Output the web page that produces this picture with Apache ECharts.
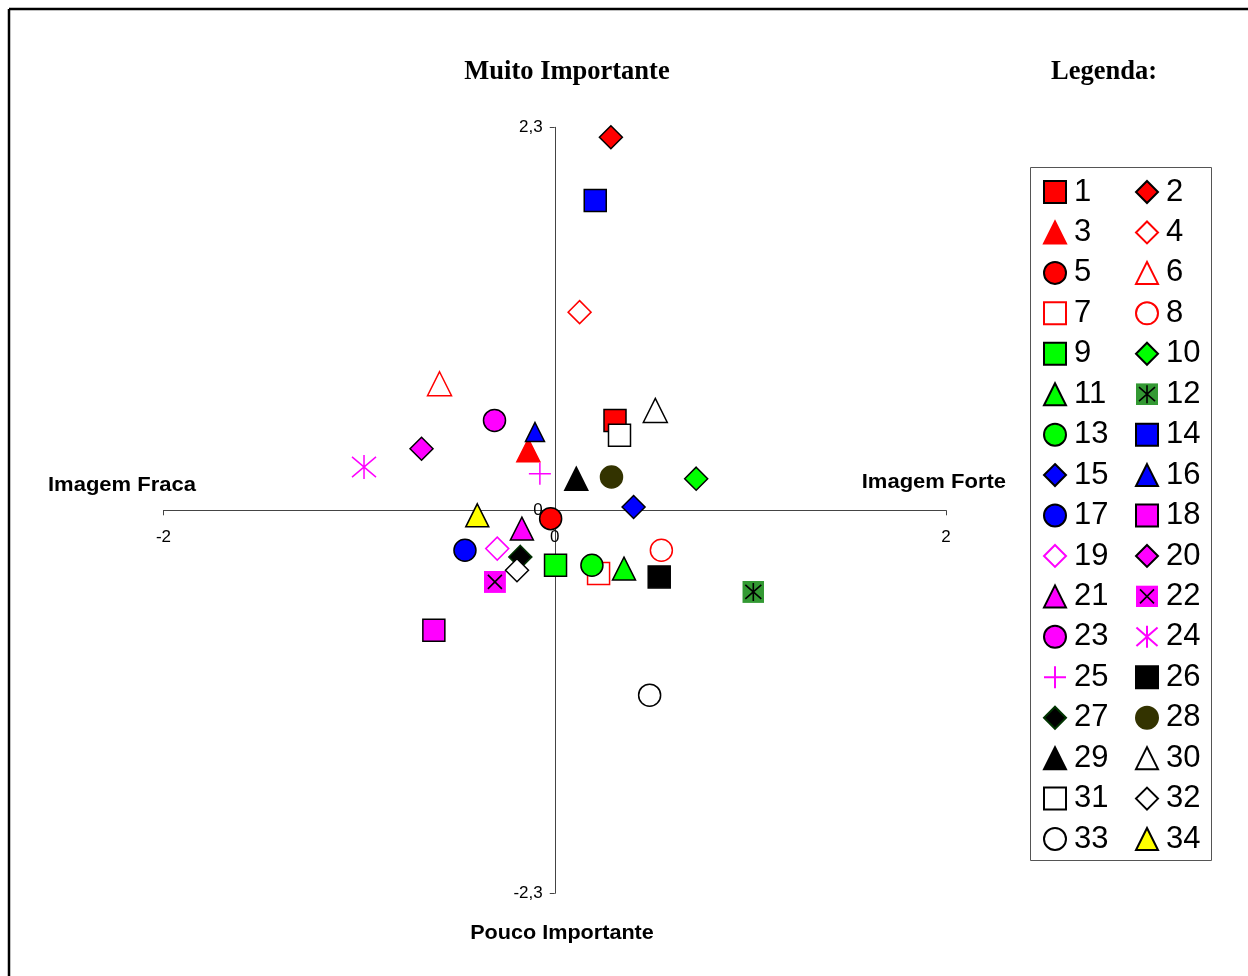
<!DOCTYPE html>
<html>
<head>
<meta charset="utf-8">
<title>Imagem x Importância</title>
<script src="https://cdn.jsdelivr.net/npm/echarts@6/dist/echarts.min.js"></script>
<style>
  html, body { margin: 0; padding: 0; background: #ffffff; }
  #chart { width: 1248px; height: 976px; }
</style>
</head>
<body>
<div id="chart"></div>
<script>
// Attribute labels (1..34) and their position on the image / importance map
const names = ['1','2','3','4','5','6','7','8','9','10','11','12','13','14','15','16','17',
               '18','19','20','21','22','23','24','25','26','27','28','29','30','31','32','33','34'];
const xValues = [0.308, 0.287, -0.135, 0.127, -0.021, -0.589, 0.224, 0.545, 0.004, 0.723,
                 0.354, 1.015, 0.190, 0.207, 0.403, -0.101, -0.459, -0.618, -0.294, -0.681,
                 -0.168, -0.306, -0.308, -0.975, -0.076, 0.534, -0.176, 0.290, 0.110, 0.514,
                 0.331, -0.193, 0.485, -0.396];
const yValues = [0.54, 2.24, 0.36, 1.19, -0.05, 0.76, -0.38, -0.24, -0.33, 0.19,
                 -0.35, -0.49, -0.33, 1.86, 0.02, 0.47, -0.24, -0.72, -0.23, 0.37,
                 -0.11, -0.43, 0.54, 0.26, 0.22, -0.40, -0.28, 0.20, 0.19, 0.60,
                 0.45, -0.36, -1.11, -0.03];
const xTicks = [-2, 0, 2];
const yTicks = [-2.3, 0, 2.3];

// Marker shapes
const svgUri = s => 'image://data:image/svg+xml;charset=utf-8,' + encodeURIComponent(s);
const squareStar = svgUri('<svg xmlns="http://www.w3.org/2000/svg" width="22" height="22">' +
  '<rect width="22" height="22" fill="#339933"/>' +
  '<path d="M11 2V20M3 4L19 18M3 18L19 4" stroke="#000" stroke-width="1.6" fill="none"/></svg>');
const squareCross = svgUri('<svg xmlns="http://www.w3.org/2000/svg" width="22" height="22">' +
  '<rect width="22" height="22" fill="#ff00ff"/>' +
  '<path d="M4 4L18 18M4 18L18 4" stroke="#000" stroke-width="1.6" fill="none"/></svg>');
const asterisk = 'path://M0,2L24,23M0,23L24,2M12,0L12,25';
const plus = 'path://M11,0L11,22M0,11L22,11';

const RED = '#ff0000', GRN = '#00ff00', BLU = '#0000ff', MAG = '#ff00ff',
      YEL = '#ffff00', BLK = '#000000', WHT = '#ffffff', NONE = 'rgba(0,0,0,0)';

// [symbol, size, fill, border]
const styles = [
  ['rect', 22, RED, BLK],        // 1
  ['diamond', 23, RED, BLK],     // 2
  ['triangle', 23, RED, RED],    // 3
  ['diamond', 23, WHT, RED],     // 4
  ['circle', 22, RED, BLK],      // 5
  ['triangle', 24, WHT, RED],    // 6
  ['rect', 22, WHT, RED],        // 7
  ['circle', 22, WHT, RED],      // 8
  ['rect', 22, GRN, BLK],        // 9
  ['diamond', 23, GRN, BLK],     // 10
  ['triangle', 23, GRN, BLK],    // 11
  [squareStar, 22, '#339933', NONE], // 12
  ['circle', 22, GRN, BLK],      // 13
  ['rect', 22, BLU, BLK],        // 14
  ['diamond', 23, BLU, BLK],     // 15
  ['triangle', 19, BLU, BLK],    // 16
  ['circle', 22, BLU, BLK],      // 17
  ['rect', 22, MAG, BLK],        // 18
  ['diamond', 23, WHT, MAG],     // 19
  ['diamond', 23, MAG, BLK],     // 20
  ['triangle', 23, MAG, BLK],    // 21
  [squareCross, 22, MAG, NONE],  // 22
  ['circle', 22, MAG, BLK],      // 23
  [asterisk, 24, NONE, MAG],     // 24
  [plus, 22, NONE, MAG],         // 25
  ['rect', 22, BLK, BLK],        // 26
  ['diamond', 23, BLK, '#003300'], // 27
  ['circle', 22, '#333300', '#333300'], // 28
  ['triangle', 23, BLK, BLK],    // 29
  ['triangle', 24, WHT, BLK],    // 30
  ['rect', 22, WHT, BLK],        // 31
  ['diamond', 23, WHT, BLK],     // 32
  ['circle', 22, WHT, BLK],      // 33
  ['triangle', 23, YEL, BLK]     // 34
];

const series = names.map((n, i) => {
  const [symbol, size, fill, border] = styles[i];
  return {
    type: 'scatter',
    name: n,
    symbol: symbol,
    symbolSize: size,
    itemStyle: { color: fill, borderColor: border, borderWidth: 1.5, opacity: 1 },
    emphasis: { disabled: true },
    data: [[xValues[i], yValues[i]]]
  };
});

const sans = '"Liberation Sans", Arial, sans-serif';
const serif = '"Liberation Serif", "Times New Roman", serif';

const GRID = { left: 163.5, top: 127.3, width: 782.5, height: 766 };

const legendCommon = {
  orient: 'vertical',
  top: 176.5,
  padding: 0,
  itemWidth: 22,
  itemHeight: 22,
  itemGap: 9.44,
  selectedMode: false,
  textStyle: { fontFamily: sans, fontSize: 31, lineHeight: 31, color: '#000', padding: [0, 0, 0, 3] }
};

const fmt = v => String(v).replace('.', ',');

const option = {
  backgroundColor: '#ffffff',
  animation: false,
  grid: Object.assign({ containLabel: false }, GRID),
  // both axes cross at the centre of the plot (value 0 on each)
  xAxis: {
    type: 'value',
    position: 'bottom',
    offset: -GRID.height / 2,
    min: xTicks[0], max: xTicks[xTicks.length - 1], interval: xTicks[1] - xTicks[0],
    splitLine: { show: false },
    axisLine: { show: true, onZero: false, lineStyle: { color: '#444', width: 1 } },
    axisTick: { show: true, inside: false, length: 5, lineStyle: { color: '#444' } },
    axisLabel: { show: true, margin: 19, showMinLabel: true, showMaxLabel: true,
                 fontFamily: sans, fontSize: 17, color: '#000', formatter: fmt }
  },
  yAxis: {
    type: 'value',
    position: 'left',
    offset: -GRID.width / 2,
    min: yTicks[0], max: yTicks[yTicks.length - 1], interval: yTicks[1] - yTicks[0],
    splitLine: { show: false },
    axisLine: { show: true, onZero: false, lineStyle: { color: '#444', width: 1 } },
    axisTick: { show: true, inside: false, length: 5, lineStyle: { color: '#444' } },
    axisLabel: { show: true, margin: 12, showMinLabel: true, showMaxLabel: true,
                 fontFamily: sans, fontSize: 17, color: '#000', formatter: fmt }
  },
  legend: [
    Object.assign({ left: 1043, data: names.filter((n, i) => i % 2 === 0) }, legendCommon),
    Object.assign({ left: 1135, data: names.filter((n, i) => i % 2 === 1) }, legendCommon)
  ],
  graphic: [
    // page frame
    { type: 'line', shape: { x1: 9, y1: 9, x2: 1248, y2: 9 }, style: { stroke: '#000', lineWidth: 2.5 } },
    { type: 'line', shape: { x1: 9, y1: 9, x2: 9, y2: 976 }, style: { stroke: '#000', lineWidth: 2.5 } },
    // legend box
    { type: 'rect', shape: { x: 1030.5, y: 167.5, width: 181, height: 693 },
      style: { fill: 'none', stroke: '#555', lineWidth: 1 }, z: -1 },
    // headings
    { type: 'text', x: 567, y: 72, style: { text: 'Muito Importante', font: 'bold 26.5px ' + serif,
      fill: '#000', textAlign: 'center', textVerticalAlign: 'middle' } },
    { type: 'text', x: 1104, y: 72, style: { text: 'Legenda:', font: 'bold 26.5px ' + serif,
      fill: '#000', textAlign: 'center', textVerticalAlign: 'middle' } },
    { type: 'text', x: 48, y: 485, scaleX: 1.1, style: { text: 'Imagem Fraca', font: 'bold 20px ' + sans,
      fill: '#000', textAlign: 'left', textVerticalAlign: 'middle' } },
    { type: 'text', x: 1006, y: 482, scaleX: 1.1, style: { text: 'Imagem Forte', font: 'bold 20px ' + sans,
      fill: '#000', textAlign: 'right', textVerticalAlign: 'middle' } },
    { type: 'text', x: 562, y: 933, scaleX: 1.08, style: { text: 'Pouco Importante', font: 'bold 20px ' + sans,
      fill: '#000', textAlign: 'center', textVerticalAlign: 'middle' } }
  ],
  series: series
};

const chart = echarts.init(document.getElementById('chart'), null, { renderer: 'canvas' });
chart.setOption(option);
</script>
</body>
</html>
